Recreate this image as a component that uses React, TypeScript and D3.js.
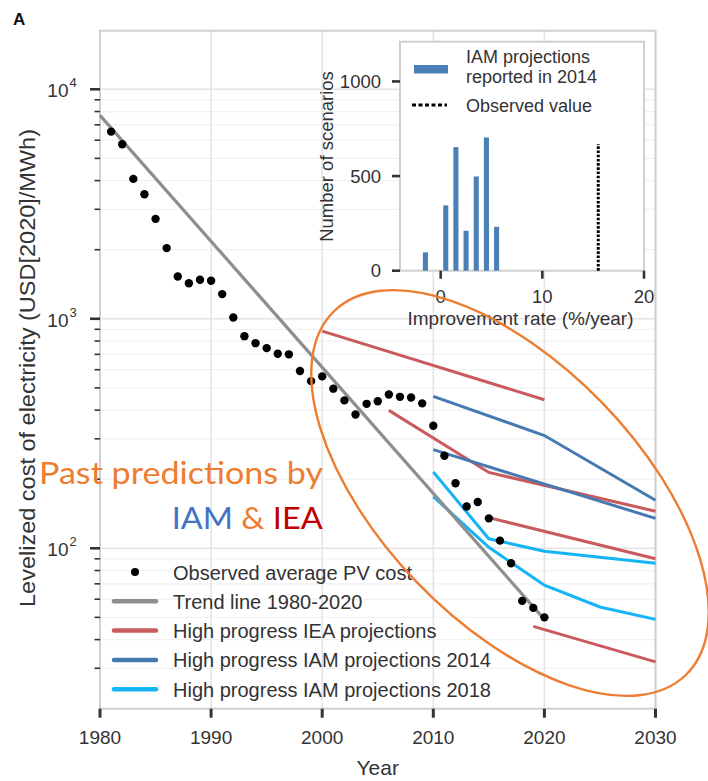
import React from "react";
import * as d3 from "d3";

// ---------- data ----------
const OBS_YEARS = [1981, 1982, 1983, 1984, 1985, 1986, 1987, 1988, 1989, 1990, 1991, 1992, 1993, 1994, 1995, 1996, 1997, 1998, 1999, 2000, 2001, 2002, 2003, 2004, 2005, 2006, 2007, 2008, 2009, 2010, 2011, 2012, 2013, 2014, 2015, 2016, 2017, 2018, 2019, 2020];
const OBS_COST = [6540, 5760, 4070, 3490, 2725, 2032, 1528, 1429, 1479, 1464, 1281, 1013, 840, 783, 745, 704, 700, 592, 535, 561, 496, 441, 383, 426, 437, 468, 457, 454, 428, 342, 253, 192, 152, 159, 135, 108, 86, 59, 55, 50];

const TREND_YEARS = [1980, 2020];
const TREND_COST = [7700, 49];

const IEA_PROJ = [
  { years: [2000, 2020], values: [883, 444] },
  { years: [2006, 2015, 2030], values: [399, 214, 145] },
  { years: [2015, 2030], values: [136, 90] },
  { years: [2019, 2030], values: [45.7, 32] },
];
const IAM2014_PROJ = [
  { years: [2010, 2020, 2030], values: [459, 310, 162] },
  { years: [2010, 2030], values: [269, 135] },
];
const IAM2018_PROJ = [
  { years: [2010, 2015, 2020, 2030], values: [215, 110, 97, 86] },
  { years: [2010, 2015, 2020, 2025, 2030], values: [168, 101, 69, 55.5, 49] },
];

const X_TICKS = [1980, 1990, 2000, 2010, 2020, 2030];
const Y_MAJOR = [100, 1000, 10000];
const Y_MAJOR_EXP = ["2", "3", "4"];
const Y_MINOR = [30, 40, 50, 60, 70, 80, 90, 200, 300, 400, 500, 600, 700, 800, 900, 2000, 3000, 4000, 5000, 6000, 7000, 8000, 9000];

const LEGEND_LABELS = [
  "Observed average PV cost",
  "Trend line 1980-2020",
  "High progress IEA projections",
  "High progress IAM projections 2014",
  "High progress IAM projections 2018",
];

// inset histogram
const RATE_BINS = [-1.5, 0.5, 1.5, 2.5, 3.5, 4.5, 5.5];
const RATE_COUNTS = [97, 345, 653, 211, 498, 704, 232];
const OBSERVED_RATE = 15.5;
const OBSERVED_RATE_HEIGHT = 670;
const INSET_X_TICKS = [0, 10, 20];
const INSET_Y_TICKS = [0, 500, 1000];

// ---------- styling ----------
const C_TREND = "#8e8e8e";
const C_IEA = "#c95a5d";
const C_IAM14 = "#4679b2";
const C_IAM18 = "#14b4f5";
const C_BAR = "#4a80b6";
const C_ORANGE = "#ed7d31";
const FONT = "'Liberation Sans', Arial, Helvetica, sans-serif";
const TEXT_C = "#333";

export default function App() {
  const x = d3.scaleLinear().domain([1980, 2030]).range([100, 655.5]);
  const y = d3.scaleLog().domain([20, 18000]).range([708.7, 30.7]);
  const [x0, x1] = x.range();
  const [yb, yt] = y.range();

  const ix = d3.scaleLinear().domain([-4, 20]).range([400, 644]);
  const iy = d3.scaleLinear().domain([0, 1210]).range([270.7, 41.7]);

  const line = d3
    .line<[number, number]>()
    .x((d) => x(d[0]))
    .y((d) => y(d[1]));
  const toPts = (s: { years: number[]; values: number[] }) =>
    s.years.map((yr, i) => [yr, s.values[i]] as [number, number]);

  const legendColors = [null, C_TREND, C_IEA, C_IAM14, C_IAM18];
  const barW = ix(0.5) - ix(0);

  return (
    <svg
      width={708}
      height={781}
      style={{ position: "absolute", left: 0, top: 0, background: "#fff" }}
      fontFamily={FONT}
    >
      <rect x={0} y={0} width={708} height={781} fill="#fff" />
      <text x={13} y={25} fontSize={17} fontWeight="bold" fill="#111">A</text>

      {/* minor grid */}
      {Y_MINOR.map((v) => (
        <line key={"mg" + v} x1={x0} x2={x1} y1={y(v)} y2={y(v)} stroke="#f1f1f1" strokeWidth={1.2} />
      ))}
      {/* major grid */}
      {Y_MAJOR.map((v) => (
        <line key={"Mg" + v} x1={x0} x2={x1} y1={y(v)} y2={y(v)} stroke="#e4e4e4" strokeWidth={1.6} />
      ))}
      {X_TICKS.map((t) => (
        <line key={"xg" + t} x1={x(t)} x2={x(t)} y1={yt} y2={yb} stroke="#e4e4e4" strokeWidth={1.6} />
      ))}

      {/* frame */}
      <rect x={x0} y={yt} width={x1 - x0} height={yb - yt} fill="none" stroke="#cfcfcf" strokeWidth={2} />

      {/* y ticks */}
      {Y_MAJOR.map((v, i) => (
        <g key={"yt" + v}>
          <line x1={x0 - 10} x2={x0} y1={y(v)} y2={y(v)} stroke={TEXT_C} strokeWidth={2.6} />
          <text x={68.5} y={y(v) + 8} fontSize={19} textAnchor="end" fill={TEXT_C}>10</text>
          <text x={69.5} y={y(v) - 2} fontSize={13} fill={TEXT_C}>{Y_MAJOR_EXP[i]}</text>
        </g>
      ))}
      {Y_MINOR.map((v) => (
        <line key={"ymt" + v} x1={x0 - 5.5} x2={x0} y1={y(v)} y2={y(v)} stroke={TEXT_C} strokeWidth={1.6} />
      ))}

      {/* x ticks */}
      {X_TICKS.map((t) => (
        <g key={"xt" + t}>
          <line x1={x(t)} x2={x(t)} y1={yb} y2={yb + 9} stroke={TEXT_C} strokeWidth={3} />
          <text x={x(t)} y={744} fontSize={19} textAnchor="middle" fill={TEXT_C}>{t}</text>
        </g>
      ))}
      <text x={(x0 + x1) / 2} y={775} fontSize={21} textAnchor="middle" fill={TEXT_C}>Year</text>
      <text
        transform={`translate(35,368) rotate(-90)`}
        fontSize={22}
        textAnchor="middle"
        fill={TEXT_C}
        textLength={478}
        lengthAdjust="spacingAndGlyphs"
      >
        Levelized cost of electricity (USD[2020]/MWh)
      </text>

      {/* projections */}
      {IEA_PROJ.map((s, i) => (
        <path key={"iea" + i} d={line(toPts(s)) || ""} fill="none" stroke={C_IEA} strokeWidth={3} />
      ))}
      {IAM2014_PROJ.map((s, i) => (
        <path key={"i14" + i} d={line(toPts(s)) || ""} fill="none" stroke={C_IAM14} strokeWidth={3} />
      ))}
      {IAM2018_PROJ.map((s, i) => (
        <path key={"i18" + i} d={line(toPts(s)) || ""} fill="none" stroke={C_IAM18} strokeWidth={3} />
      ))}

      {/* trend */}
      <path
        d={line(TREND_YEARS.map((yr, i) => [yr, TREND_COST[i]] as [number, number])) || ""}
        fill="none"
        stroke={C_TREND}
        strokeWidth={3.2}
      />

      {/* observed */}
      {OBS_YEARS.map((yr, i) => (
        <circle key={"o" + yr} cx={x(yr)} cy={y(OBS_COST[i])} r={4.2} fill="#000" />
      ))}

      {/* legend */}
      {LEGEND_LABELS.map((lab, i) => {
        const ly = 572 + i * 29.3;
        return (
          <g key={"lg" + i}>
            {i === 0 ? (
              <circle cx={135} cy={ly} r={4} fill="#000" />
            ) : (
              <line x1={114} x2={156} y1={ly} y2={ly} stroke={legendColors[i] as string} strokeWidth={4.5} strokeLinecap="round" />
            )}
            <text x={173} y={ly + 7.5} fontSize={20} fill={TEXT_C}>{lab}</text>
          </g>
        );
      })}

      {/* inset */}
      <rect x={400} y={41.7} width={244} height={229} fill="#fff" stroke="#cfcfcf" strokeWidth={2} />
      {RATE_BINS.map((b, i) => (
        <rect
          key={"bar" + i}
          x={ix(b) - barW / 2}
          y={iy(RATE_COUNTS[i])}
          width={barW}
          height={iy(0) - iy(RATE_COUNTS[i])}
          fill={C_BAR}
        />
      ))}
      <line
        x1={ix(OBSERVED_RATE)}
        x2={ix(OBSERVED_RATE)}
        y1={iy(0)}
        y2={iy(OBSERVED_RATE_HEIGHT)}
        stroke="#000"
        strokeWidth={3}
        strokeDasharray="2.6,1.6"
      />
      {INSET_Y_TICKS.map((t) => (
        <g key={"iyt" + t}>
          <line x1={392} x2={400} y1={iy(t)} y2={iy(t)} stroke={TEXT_C} strokeWidth={2.6} />
          <text x={381} y={iy(t) + 6.5} fontSize={18.5} textAnchor="end" fill={TEXT_C}>{t}</text>
        </g>
      ))}
      {INSET_X_TICKS.map((t) => (
        <g key={"ixt" + t}>
          <line x1={ix(t)} x2={ix(t)} y1={iy(0)} y2={iy(0) + 8} stroke={TEXT_C} strokeWidth={2.6} />
          <text x={ix(t)} y={303} fontSize={18.5} textAnchor="middle" fill={TEXT_C}>{t}</text>
        </g>
      ))}
      <text x={520.5} y={325} fontSize={19} textAnchor="middle" fill={TEXT_C}>Improvement rate (%/year)</text>
      <text transform="translate(333,156.5) rotate(-90)" fontSize={18.5} textAnchor="middle" fill={TEXT_C}>
        Number of scenarios
      </text>
      {/* inset legend */}
      <rect x={414} y={65} width={34} height={8.5} fill={C_BAR} />
      <text x={466} y={63.3} fontSize={18} fill={TEXT_C}>IAM projections</text>
      <text x={466} y={83.3} fontSize={18} fill={TEXT_C}>reported in 2014</text>
      <line x1={412} x2={447} y1={105} y2={105} stroke="#000" strokeWidth={3} strokeDasharray="4,2.5" />
      <text x={466} y={111.7} fontSize={18} fill={TEXT_C}>Observed value</text>

      {/* annotation */}
      <text
        x={39}
        y={483.5}
        fontSize={31}
        fontFamily="Lato, 'Open Sans', sans-serif"
        fill={C_ORANGE}
        textLength={284}
        lengthAdjust="spacingAndGlyphs"
      >
        Past predictions by
      </text>
      <text
        x={171.7}
        y={529.3}
        fontSize={31}
        fontFamily="Lato, 'Open Sans', sans-serif"
        textLength={151}
        lengthAdjust="spacingAndGlyphs"
      >
        <tspan fill="#4472c4">IAM</tspan>
        <tspan fill={C_ORANGE}> &amp; </tspan>
        <tspan fill="#c00000">IEA</tspan>
      </text>
      <ellipse
        cx={510}
        cy={493}
        rx={253}
        ry={129}
        transform="rotate(46 510 493)"
        fill="none"
        stroke={C_ORANGE}
        strokeWidth={2.4}
      />
    </svg>
  );
}
